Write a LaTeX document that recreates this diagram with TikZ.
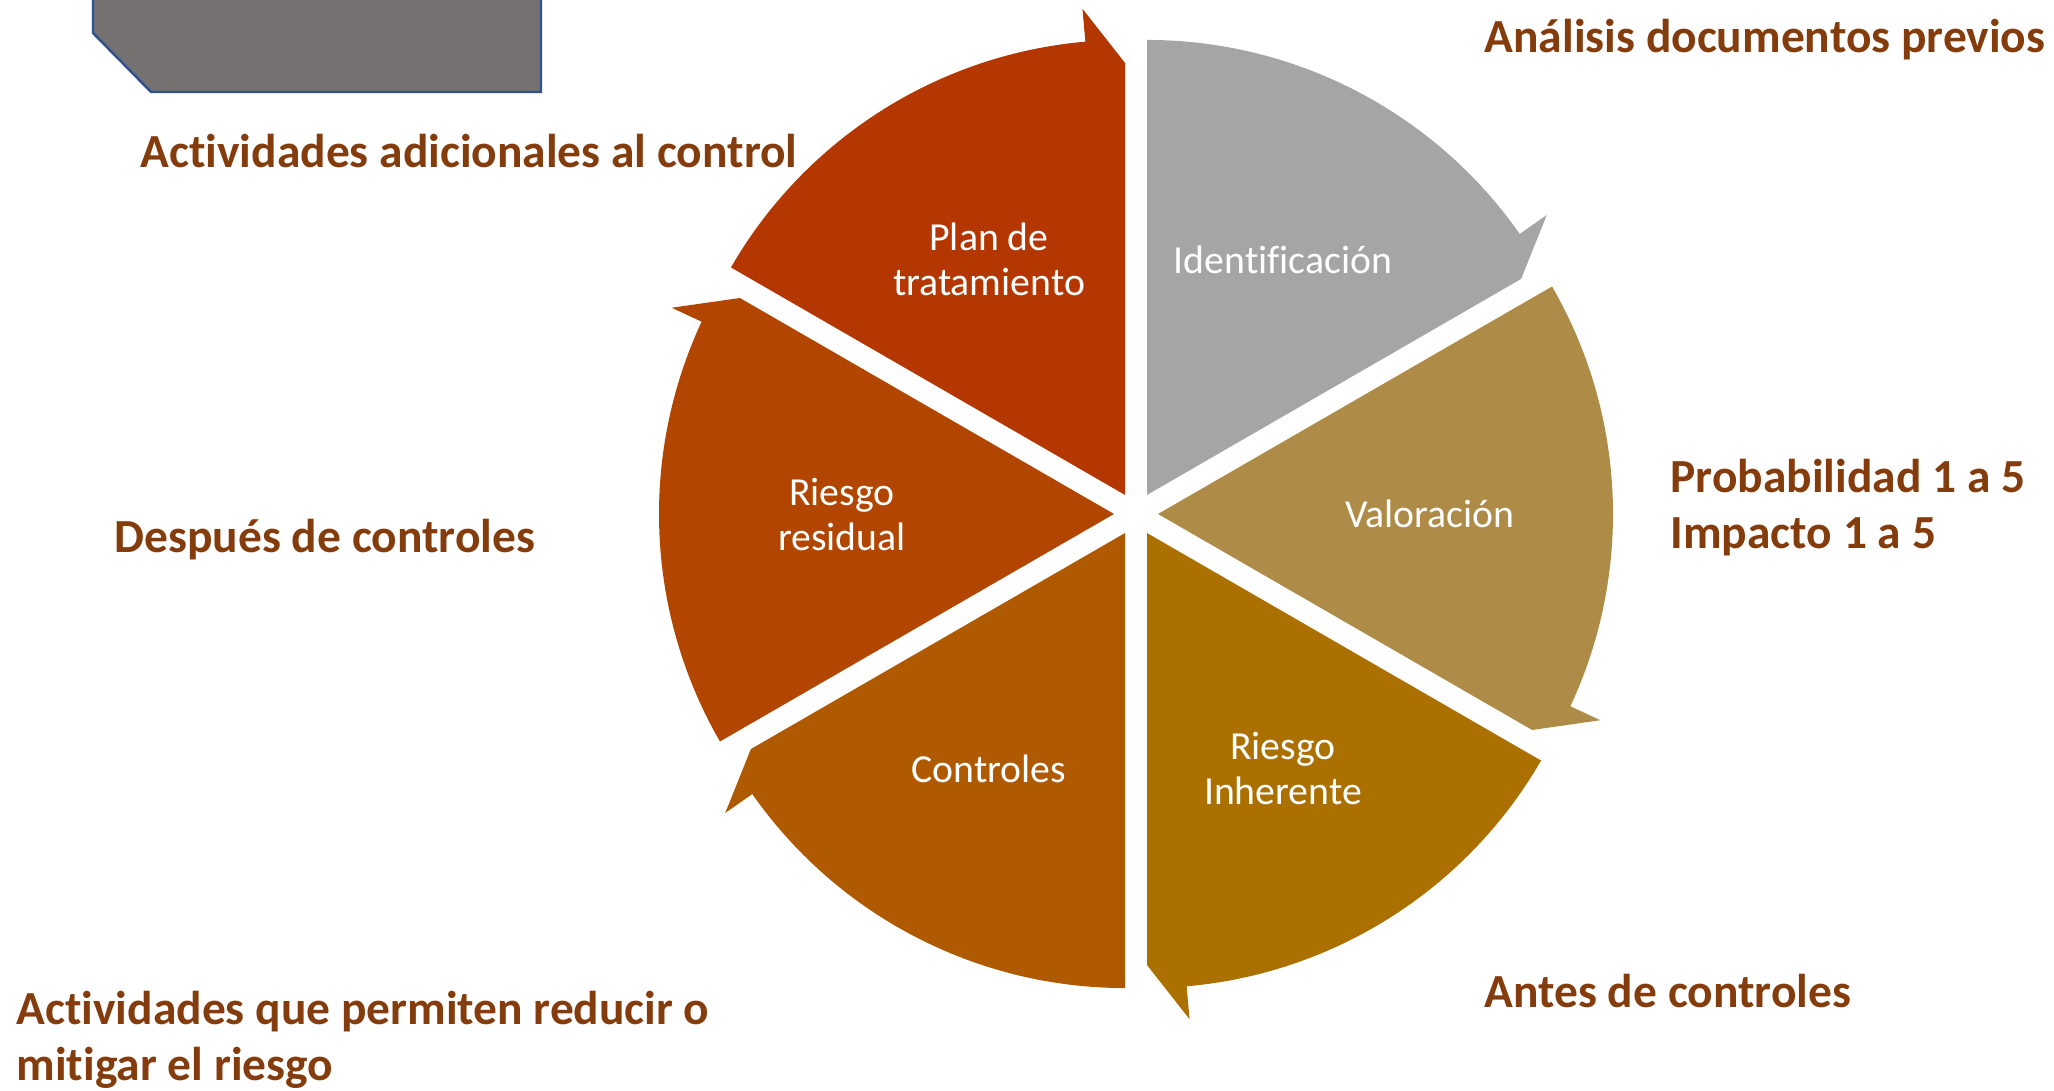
\documentclass[tikz,border=0pt]{standalone}
\usepackage{fontspec}
\setmainfont{Carlito}[Ligatures=CommonOff]
\usepackage{tikz}

\definecolor{segident}{HTML}{A5A5A5}
\definecolor{segvalor}{HTML}{AF8B48}
\definecolor{seginher}{HTML}{AB7000}
\definecolor{segcontrol}{HTML}{AF5A00}
\definecolor{segresid}{HTML}{B24500}
\definecolor{segplan}{HTML}{B43600}
\definecolor{notebrown}{HTML}{843C0C}
\definecolor{boxgrey}{HTML}{767171}
\definecolor{boxblue}{HTML}{2F528F}

\begin{document}
\begin{tikzpicture}[x=0.01cm,y=0.01cm]
    % #1 start angle, #2 colour; arrow head at the clockwise end
    \newcommand{\cyclesegment}[2]{
      \begin{scope}[shift={(#1-30:22)}]
        \fill[#2] (0,0) -- (#1:455)
          arc[start angle=#1, end angle=#1-55, radius=455]
          -- (#1-55:488) -- (#1-60:432) -- cycle;
      \end{scope}
    }

    \tikzstyle{seglabel}=[
      text=white,
      align=center,
      inner sep=0,
      font=\fontsize{11.3}{12.8}\selectfont,
    ]
    \tikzstyle{note}=[
      anchor=base west,
      align=left,
      inner sep=0,
      text=notebrown,
      font=\bfseries\fontsize{13.5}{16.2}\selectfont,
    ]
    \tikzstyle{tab}=[
      fill=boxgrey,
      draw=boxblue,
      line width=0.7pt,
    ]

    \useasboundingbox (0,0) rectangle (2054,1091);

    \draw[tab] (93,1100) -- (93,1058) -- (151,999) -- (541,999) -- (541,1100);

    \begin{scope}[shift={(1136,577)}]
      \cyclesegment{90}{segident}
      \cyclesegment{30}{segvalor}
      \cyclesegment{-30}{seginher}
      \cyclesegment{-90}{segcontrol}
      \cyclesegment{210}{segresid}
      \cyclesegment{150}{segplan}

      \node[seglabel] (ident) at (60:294) {Identificación};
      \node[seglabel] (valor) at (0:294) {Valoración};
      \node[seglabel] (inher) at (-60:294) {Riesgo\\Inherente};
      \node[seglabel] (control) at (-120:294) {Controles};
      \node[seglabel] (resid) at (180:294) {Riesgo\\residual};
      \node[seglabel] (plan) at (120:294) {Plan de\\tratamiento};
    \end{scope}

    % base of the two-line notes is the last line
    \node[note] (notedocs) at (1484,1038) {Análisis documentos previos};
    \node[note] (noteextra) at (140,923) {Actividades adicionales al control};
    \node[note] (noteprob) at (1670,542) {Probabilidad 1 a 5\\Impacto 1 a 5};
    \node[note] (noteafter) at (114,538) {Después de controles};
    \node[note] (notebefore) at (1484,83) {Antes de controles};
    \node[note] (notemitig) at (16,10) {Actividades que permiten reducir o\\mitigar el riesgo};
  \end{tikzpicture}
\end{document}
